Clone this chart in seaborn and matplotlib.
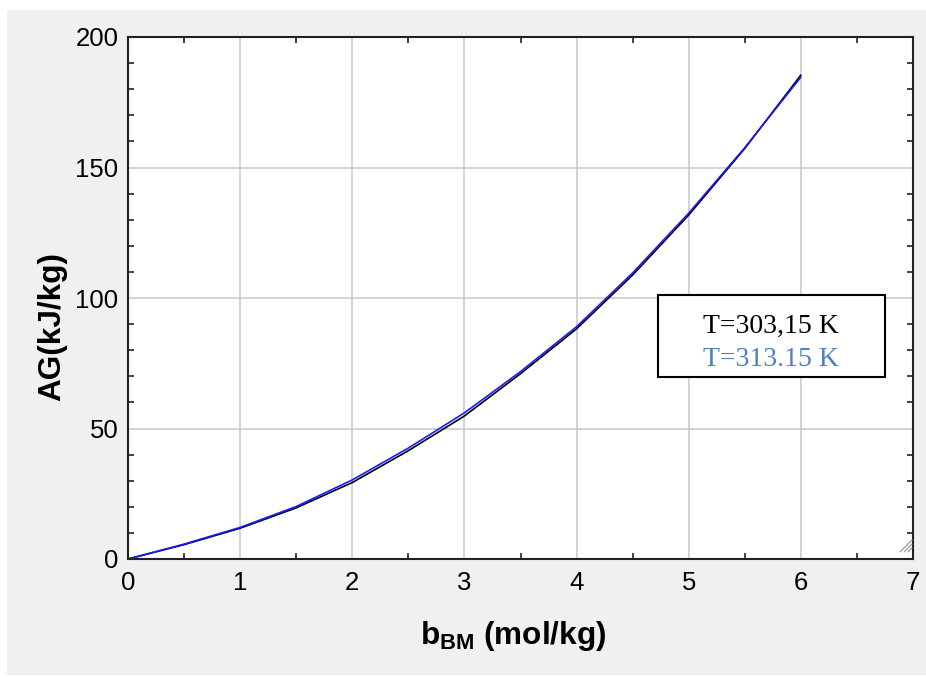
import numpy as np
import pandas as pd
import matplotlib
matplotlib.use("Agg")
import matplotlib.pyplot as plt
import seaborn as sns
from matplotlib.patches import Rectangle
from matplotlib.lines import Line2D
from matplotlib.ticker import MultipleLocator

# ---- data ----
b_bm = [0, 0.5, 1, 1.5, 2, 2.5, 3, 3.5, 4, 4.5, 5, 5.5, 6]
ag_303 = [0, 5.5, 11.8, 19.6, 29.3, 41.5, 54.8, 71.0, 88.2, 108.8, 131.8, 157.3, 185.4]
ag_313 = [0, 5.7, 12.1, 20.1, 30.3, 42.5, 56.0, 71.8, 89.0, 109.6, 132.5, 157.6, 184.6]
series_labels = ["T=303,15 K", "T=313.15 K"]
line_colors = ["#000000", "#1a1aff"]
legend_colors = ["#000000", "#4f81bd"]
x_label = "b$_{BM}$ (mol/kg)"
y_label = "AG(kJ/kg)"

df = pd.DataFrame({
    "b": b_bm + b_bm,
    "AG": ag_303 + ag_313,
    "T": [series_labels[0]] * len(b_bm) + [series_labels[1]] * len(b_bm),
})

sns.set_theme(style="white")
plt.rcParams["font.family"] = ["Liberation Sans", "DejaVu Sans"]
plt.rcParams["mathtext.fontset"] = "custom"
plt.rcParams["mathtext.rm"] = "Liberation Sans:bold"
plt.rcParams["mathtext.default"] = "rm"

W, H = 926, 677
fig = plt.figure(figsize=(W / 100, H / 100), dpi=100, facecolor="white")
fig.patches.append(Rectangle((7 / W, 2 / H), (W - 7) / W, 665 / H,
                             transform=fig.transFigure, facecolor="#f0f0f0",
                             edgecolor="none", zorder=-10))

ax = fig.add_axes([128 / W, (H - 559) / H, 785 / W, 522 / H])
ax.set_facecolor("white")

sns.lineplot(data=df, x="b", y="AG", hue="T",
             palette=dict(zip(series_labels, line_colors)),
             estimator=None, sort=False, linewidth=1.2, legend=False, ax=ax)

ax.set_xlim(0, 7)
ax.set_ylim(0, 200)
ax.xaxis.set_major_locator(MultipleLocator(1))
ax.xaxis.set_minor_locator(MultipleLocator(0.5))
ax.yaxis.set_major_locator(MultipleLocator(50))
ax.yaxis.set_minor_locator(MultipleLocator(10))

ax.grid(which="major", color="#c8c8c8", linewidth=1.1)
ax.set_axisbelow(True)
ax.tick_params(which="major", length=0, labelsize=18.5, labelcolor="#000000")
ax.tick_params(axis="x", which="major", pad=9)
ax.tick_params(axis="y", which="major", pad=7)
ax.tick_params(which="minor", direction="in", length=4.5, width=1.2, color="#222222",
               top=True, right=True, bottom=True, left=True)
for sp in ax.spines.values():
    sp.set_color("#222222")
    sp.set_linewidth(1.5)

ax.set_xlabel(x_label, fontsize=22.7, fontweight="bold", color="#000000")
ax.set_ylabel(y_label, fontsize=22.7, fontweight="bold", color="#000000")
ax.xaxis.label.set_verticalalignment("center")
ax.yaxis.label.set_verticalalignment("center")
ax.xaxis.set_label_coords(0.4904, -0.1475)
ax.yaxis.set_label_coords(-0.096, 0.446)

# legend box
ax.add_patch(Rectangle((0.675, 0.3487), 0.2893, 0.157, transform=ax.transAxes,
                       facecolor="white", edgecolor="black", linewidth=1.5, zorder=5))
ax.text(0.819, 0.4335, series_labels[0], transform=ax.transAxes, ha="center",
        va="baseline", fontsize=20, family="Liberation Serif",
        color=legend_colors[0], zorder=6)
ax.text(0.819, 0.3697, series_labels[1], transform=ax.transAxes, ha="center",
        va="baseline", fontsize=20, family="Liberation Serif",
        color=legend_colors[1], zorder=6)

# window resize grip
for k in range(3):
    off = 4 * k
    fig.add_artist(Line2D([(900 + off) / W, 912 / W],
                          [(H - 552) / H, (H - 540 - off) / H],
                          transform=fig.transFigure, color="#999999", linewidth=0.9))

fig.savefig("out.png", dpi=100, facecolor=fig.get_facecolor())
